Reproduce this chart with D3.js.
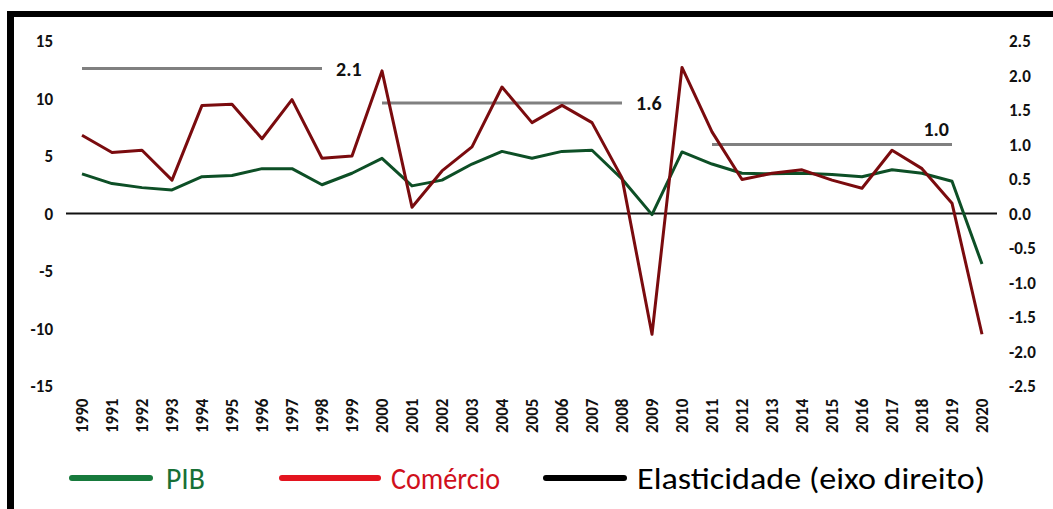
<!DOCTYPE html>
<html><head><meta charset="utf-8">
<script src="https://cdn.jsdelivr.net/npm/d3@7"></script>
<style>
html,body{margin:0;padding:0;background:#fff;}
svg{display:block;}
</style></head>
<body>
<svg id="chart" width="1053" height="509"></svg>
<script>
const years = d3.range(1990, 2021);
const pib = [3.45, 2.6, 2.25, 2.05, 3.2, 3.3, 3.9, 3.9, 2.5, 3.5, 4.8,
             2.4, 2.9, 4.3, 5.4, 4.8, 5.4, 5.5, 3.0, -0.1, 5.35,
             4.3, 3.5, 3.45, 3.5, 3.4, 3.2, 3.8, 3.5, 2.8, -4.4];
const comercio = [6.8, 5.3, 5.5, 2.9, 9.4, 9.5, 6.5, 9.9, 4.8, 5.0, 12.4,
                  0.55, 3.7, 5.8, 11.0, 7.9, 9.4, 7.9, 3.1, -10.5, 12.7,
                  7.1, 2.95, 3.5, 3.8, 2.9, 2.2, 5.5, 3.9, 0.9, -10.5];
const elastStart = [1990, 2000, 2011];
const elastEnd = [1998, 2008, 2019];
const elastValue = [2.1, 1.6, 1.0];
const elastLabel = ["2.1", "1.6", "1.0"];
const leftTicks = [15, 10, 5, 0, -5, -10, -15];
const rightTicks = [2.5, 2.0, 1.5, 1.0, 0.5, 0.0, -0.5, -1.0, -1.5, -2.0, -2.5];
const legendLabels = ["PIB", "Comércio", "Elasticidade (eixo direito)"];

const svg = d3.select("#chart");
const tickFont = "Carlito, 'Liberation Sans Narrow', Lato, sans-serif";
const loc = d3.formatLocale({decimal: ".", thousands: ",", grouping: [3], currency: ["", ""], minus: "-"});

// frame bars
svg.append("rect").attr("x", 7).attr("y", 11).attr("width", 1046).attr("height", 6).attr("fill", "#000");
svg.append("rect").attr("x", 7).attr("y", 11).attr("width", 7).attr("height", 498).attr("fill", "#000");

const x = d3.scaleLinear().domain([1990, 2020]).range([82, 982]);
const yL = d3.scaleLinear().domain([-15, 15]).range([386, 41]);
const yR = d3.scaleLinear().domain([-2.5, 2.5]).range([386, 41]);

// left axis
const axL = d3.axisLeft(yL).tickValues(leftTicks).tickSize(0).tickPadding(0).tickFormat(loc.format("d"));
const gL = svg.append("g").attr("transform", "translate(53,0)").call(axL);
gL.select(".domain").remove();
gL.selectAll("text").attr("font-family", tickFont).attr("font-weight", "bold").attr("font-size", 17).attr("fill", "#111").attr("dy", "0.35em");

// right axis
const axR = d3.axisRight(yR).tickValues(rightTicks).tickSize(0).tickPadding(0).tickFormat(loc.format(".1f"));
const gR = svg.append("g").attr("transform", "translate(1009,0)").call(axR);
gR.select(".domain").remove();
gR.selectAll("text").attr("font-family", tickFont).attr("font-weight", "bold").attr("font-size", 17).attr("fill", "#111").attr("dy", "0.35em");

// x axis labels (rotated)
const axX = d3.axisBottom(x).tickValues(years).tickSize(0).tickPadding(0).tickFormat(loc.format("d"));
const gX = svg.append("g").attr("transform", "translate(0,433)").call(axX);
gX.select(".domain").remove();
gX.selectAll("text")
  .attr("font-family", tickFont).attr("font-weight", "bold").attr("font-size", 17).attr("fill", "#111")
  .attr("transform", "rotate(-90)").attr("text-anchor", "start").attr("x", 0).attr("y", 0).attr("dy", "0.35em");

// zero line
svg.append("line").attr("x1", 66).attr("x2", 997).attr("y1", yL(0)).attr("y2", yL(0))
  .attr("stroke", "#111").attr("stroke-width", 2);

// elasticity segments
const el = svg.append("g");
elastValue.forEach((v, i) => {
  el.append("line").attr("x1", x(elastStart[i])).attr("x2", x(elastEnd[i]))
    .attr("y1", yR(v)).attr("y2", yR(v)).attr("stroke", "#808080").attr("stroke-width", 3);
});
el.append("text").attr("x", x(elastEnd[0]) + 14).attr("y", yR(elastValue[0]) + 7).text(elastLabel[0]);
el.append("text").attr("x", x(elastEnd[1]) + 14).attr("y", yR(elastValue[1]) + 7).text(elastLabel[1]);
el.append("text").attr("x", x(elastEnd[2]) - 3).attr("y", yR(elastValue[2]) - 9).attr("text-anchor", "end").text(elastLabel[2]);
el.selectAll("text").attr("font-family", tickFont).attr("font-weight", "bold").attr("font-size", 20).attr("fill", "#111");

// series lines
const lineL = d3.line().x((d, i) => x(years[i])).y(d => yL(d));
svg.append("path").datum(pib).attr("d", lineL).attr("fill", "none")
  .attr("stroke", "#0d4f26").attr("stroke-width", 3).attr("stroke-linejoin", "round");
svg.append("path").datum(comercio).attr("d", lineL).attr("fill", "none")
  .attr("stroke", "#7a0b0e").attr("stroke-width", 3).attr("stroke-linejoin", "round");

// legend
const legend = [
  {x1: 72, x2: 150, tx: 166, w: 39, col: "#177a3c", tcol: "#177036"},
  {x1: 282, x2: 378, tx: 391, w: 109, col: "#e3141f", tcol: "#d0101c"},
  {x1: 546, x2: 624, tx: 637, w: 348, col: "#000", tcol: "#000"}
];
const lg = svg.append("g");
legend.forEach((d, i) => {
  lg.append("line").attr("x1", d.x1).attr("x2", d.x2).attr("y1", 478).attr("y2", 478)
    .attr("stroke", d.col).attr("stroke-width", 6).attr("stroke-linecap", "round");
  lg.append("text").attr("x", d.tx).attr("y", 478).attr("dy", "0.35em")
    .attr("font-family", tickFont).attr("font-size", 30).attr("fill", d.tcol)
    .attr("textLength", d.w).attr("lengthAdjust", "spacingAndGlyphs").text(legendLabels[i]);
});
</script>
</body></html>
